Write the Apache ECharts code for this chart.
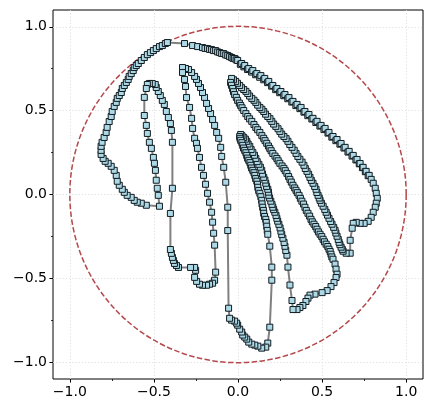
<!DOCTYPE html>
<html><head><meta charset="utf-8">
<script src="https://cdn.jsdelivr.net/npm/echarts@6/dist/echarts.min.js"></script>
<style>html,body{margin:0;padding:0;background:#fff}#c{width:432px;height:413px}</style>
</head><body><div id="c"></div>
<script>
const majorTicks = [-1.0, -0.5, 0, 0.5, 1.0];
const minorTicks = [-0.75, -0.25, 0.25, 0.75];
const circleData = [[0, 0, 1]];

const thumbOuter = [[-0.480,0.037],[-0.474,-0.005],[-0.467,-0.070],[-0.545,-0.064],[-0.575,-0.052],[-0.599,-0.046],[-0.617,-0.035],[-0.635,-0.017],[-0.659,-0.005],[-0.676,0.013],[-0.688,0.031],[-0.706,0.055],[-0.718,0.079],[-0.724,0.114],[-0.736,0.144],[-0.754,0.168],[-0.772,0.186],[-0.790,0.198],[-0.802,0.215],[-0.814,0.239],[-0.814,0.263],[-0.814,0.287],[-0.808,0.311],[-0.796,0.340],[-0.784,0.370],[-0.778,0.400],[-0.766,0.435],[-0.754,0.465],[-0.748,0.495],[-0.736,0.525],[-0.724,0.549],[-0.718,0.573],[-0.706,0.590],[-0.694,0.608],[-0.688,0.632],[-0.676,0.650],[-0.664,0.668],[-0.653,0.686],[-0.647,0.704],[-0.635,0.721],[-0.623,0.739],[-0.617,0.757],[-0.605,0.769],[-0.593,0.781],[-0.575,0.799],[-0.557,0.817],[-0.539,0.834],[-0.521,0.846],[-0.503,0.858],[-0.486,0.870],[-0.467,0.882],[-0.450,0.888],[-0.432,0.900],[-0.420,0.906]];

const outerEdge = [[-0.318,0.900],[-0.270,0.888],[-0.240,0.882],[-0.211,0.876],[-0.196,0.871],[-0.181,0.870],[-0.169,0.865],[-0.157,0.864],[-0.145,0.858],[-0.133,0.858],[-0.121,0.850],[-0.109,0.846],[-0.097,0.841],[-0.085,0.840],[-0.073,0.832],[-0.061,0.829],[-0.050,0.822],[-0.038,0.817],[-0.029,0.811],[-0.020,0.811],[-0.011,0.803],[-0.002,0.799],[0.014,0.776],[0.022,0.781],[0.035,0.761],[0.040,0.769],[0.057,0.745],[0.064,0.751],[0.081,0.730],[0.088,0.739],[0.105,0.714],[0.112,0.721],[0.129,0.699],[0.136,0.709],[0.153,0.684],[0.159,0.692],[0.176,0.667],[0.183,0.674],[0.200,0.646],[0.207,0.650],[0.224,0.625],[0.231,0.632],[0.248,0.607],[0.255,0.614],[0.272,0.589],[0.279,0.596],[0.296,0.571],[0.303,0.578],[0.320,0.551],[0.327,0.555],[0.344,0.530],[0.351,0.537],[0.368,0.512],[0.375,0.519],[0.392,0.491],[0.398,0.495],[0.415,0.470],[0.422,0.477],[0.439,0.450],[0.446,0.454],[0.463,0.429],[0.470,0.436],[0.487,0.408],[0.494,0.412],[0.511,0.387],[0.518,0.394],[0.535,0.366],[0.541,0.370],[0.558,0.342],[0.565,0.346],[0.582,0.321],[0.589,0.328],[0.606,0.300],[0.613,0.304],[0.630,0.277],[0.637,0.281],[0.654,0.253],[0.661,0.257],[0.678,0.229],[0.685,0.233],[0.701,0.206],[0.708,0.209],[0.721,0.183],[0.726,0.185],[0.740,0.160],[0.744,0.162],[0.757,0.136],[0.762,0.138],[0.774,0.112],[0.780,0.114],[0.792,0.090],[0.804,0.067],[0.816,0.037],[0.822,0.007],[0.828,-0.023],[0.822,-0.052],[0.816,-0.076],[0.804,-0.106],[0.792,-0.136],[0.774,-0.160],[0.750,-0.172],[0.726,-0.172],[0.703,-0.166],[0.685,-0.172],[0.679,-0.201],[0.667,-0.273],[0.667,-0.350]];

const pinkyLeft = [[0.643,-0.350],[0.625,-0.338],[0.620,-0.327],[0.613,-0.314],[0.606,-0.299],[0.601,-0.285],[0.596,-0.268],[0.589,-0.249],[0.582,-0.230],[0.577,-0.213],[0.569,-0.196],[0.559,-0.177],[0.551,-0.161],[0.541,-0.142],[0.532,-0.123],[0.524,-0.106],[0.516,-0.089],[0.506,-0.070],[0.496,-0.052],[0.488,-0.035],[0.483,-0.021],[0.476,-0.005],[0.469,0.012],[0.464,0.031],[0.456,0.048],[0.446,0.067],[0.436,0.084],[0.428,0.102],[0.420,0.121],[0.410,0.138],[0.400,0.155],[0.392,0.174],[0.381,0.193],[0.368,0.210],[0.356,0.227],[0.345,0.245],[0.334,0.264],[0.321,0.281],[0.308,0.298],[0.297,0.317],[0.286,0.333],[0.273,0.346],[0.260,0.360],[0.249,0.376],[0.238,0.392],[0.225,0.406],[0.212,0.420],[0.201,0.436],[0.190,0.452],[0.177,0.465],[0.164,0.479],[0.153,0.495],[0.142,0.508],[0.130,0.519],[0.117,0.533],[0.106,0.549],[0.095,0.562],[0.082,0.573],[0.069,0.587],[0.058,0.602],[0.047,0.615],[0.034,0.626],[0.021,0.637],[0.010,0.650],[-0.003,0.663],[-0.014,0.674],[-0.027,0.684],[-0.038,0.692]];

const ringRight = [[-0.044,0.668],[-0.039,0.651],[-0.032,0.632],[-0.027,0.613],[-0.020,0.596],[-0.010,0.579],[-0.002,0.561],[0.008,0.545],[0.016,0.531],[0.024,0.517],[0.034,0.501],[0.047,0.482],[0.058,0.465],[0.069,0.451],[0.082,0.436],[0.095,0.417],[0.106,0.400],[0.117,0.386],[0.130,0.370],[0.142,0.351],[0.153,0.335],[0.161,0.321],[0.171,0.305],[0.181,0.289],[0.189,0.275],[0.197,0.261],[0.207,0.245],[0.220,0.229],[0.231,0.215],[0.239,0.201],[0.249,0.186],[0.262,0.170],[0.273,0.156],[0.281,0.142],[0.291,0.126],[0.301,0.107],[0.309,0.090],[0.317,0.074],[0.327,0.055],[0.337,0.039],[0.345,0.025],[0.353,0.011],[0.363,-0.005],[0.371,-0.023],[0.380,-0.040],[0.390,-0.057],[0.398,-0.076],[0.406,-0.095],[0.416,-0.112],[0.426,-0.129],[0.434,-0.148],[0.442,-0.163],[0.452,-0.177],[0.462,-0.191],[0.470,-0.207],[0.478,-0.223],[0.488,-0.237],[0.498,-0.251],[0.506,-0.267],[0.514,-0.282],[0.524,-0.296],[0.534,-0.310],[0.541,-0.326],[0.548,-0.340],[0.553,-0.356],[0.558,-0.372],[0.565,-0.386],[0.577,-0.415],[0.583,-0.445],[0.589,-0.475]];

const ringLeft = [[0.583,-0.495],[0.571,-0.525],[0.553,-0.549],[0.530,-0.573],[0.500,-0.585],[0.458,-0.594],[0.428,-0.600],[0.416,-0.618],[0.404,-0.638],[0.386,-0.662],[0.368,-0.674],[0.351,-0.686],[0.327,-0.686],[0.321,-0.632],[0.309,-0.540],[0.297,-0.433],[0.291,-0.362],[0.284,-0.334],[0.279,-0.309],[0.274,-0.286],[0.267,-0.261],[0.260,-0.239],[0.255,-0.219],[0.250,-0.199],[0.243,-0.178],[0.236,-0.159],[0.231,-0.142],[0.226,-0.125],[0.219,-0.106],[0.212,-0.090],[0.207,-0.076],[0.202,-0.059],[0.195,-0.040],[0.188,-0.021],[0.183,-0.005],[0.181,0.014],[0.177,0.031],[0.170,0.048],[0.165,0.067],[0.160,0.086],[0.153,0.102],[0.146,0.122],[0.141,0.144],[0.133,0.163],[0.124,0.180],[0.114,0.196],[0.106,0.215],[0.098,0.234],[0.088,0.251],[0.078,0.268],[0.070,0.287],[0.060,0.301],[0.052,0.317],[0.044,0.330],[0.034,0.340],[0.024,0.350],[0.016,0.358]];

const middleRight = [[0.010,0.346],[0.012,0.335],[0.016,0.323],[0.023,0.309],[0.028,0.293],[0.033,0.277],[0.040,0.263],[0.047,0.249],[0.052,0.233],[0.057,0.217],[0.064,0.204],[0.071,0.190],[0.076,0.174],[0.081,0.158],[0.088,0.144],[0.095,0.130],[0.100,0.114],[0.105,0.095],[0.112,0.079],[0.116,0.061],[0.118,0.043],[0.123,0.024],[0.130,0.007],[0.136,-0.013],[0.141,-0.035],[0.143,-0.056],[0.147,-0.076],[0.151,-0.095],[0.153,-0.112],[0.158,-0.131],[0.165,-0.148],[0.168,-0.167],[0.171,-0.189],[0.174,-0.214],[0.177,-0.237],[0.189,-0.308],[0.201,-0.433],[0.201,-0.511],[0.189,-0.791],[0.177,-0.886]];

const middleLeft = [[0.165,-0.910],[0.141,-0.916],[0.118,-0.904],[0.100,-0.898],[0.082,-0.892],[0.064,-0.880],[0.052,-0.862],[0.040,-0.850],[0.028,-0.838],[0.022,-0.820],[0.010,-0.803],[-0.002,-0.779],[-0.008,-0.767],[-0.020,-0.755],[-0.038,-0.749],[-0.050,-0.738],[-0.056,-0.678],[-0.061,-0.215],[-0.061,-0.076],[-0.073,0.073],[-0.085,0.162],[-0.097,0.227],[-0.103,0.281],[-0.115,0.335],[-0.127,0.370],[-0.139,0.412],[-0.151,0.447],[-0.163,0.483],[-0.175,0.513],[-0.187,0.543],[-0.199,0.579],[-0.211,0.608],[-0.223,0.638],[-0.235,0.662],[-0.247,0.686],[-0.258,0.704],[-0.276,0.727],[-0.294,0.745],[-0.312,0.751],[-0.330,0.757]];

const indexRight = [[-0.330,0.727],[-0.318,0.686],[-0.312,0.644],[-0.306,0.578],[-0.288,0.519],[-0.276,0.454],[-0.270,0.394],[-0.258,0.335],[-0.247,0.305],[-0.241,0.275],[-0.229,0.221],[-0.217,0.162],[-0.205,0.114],[-0.193,0.061],[-0.181,0.007],[-0.169,-0.046],[-0.157,-0.106],[-0.151,-0.165],[-0.145,-0.231],[-0.139,-0.302],[-0.133,-0.463],[-0.139,-0.511],[-0.151,-0.529],[-0.169,-0.535],[-0.187,-0.541],[-0.211,-0.541],[-0.229,-0.535],[-0.246,-0.518],[-0.258,-0.494],[-0.252,-0.452],[-0.258,-0.435],[-0.282,-0.435]];

const indexLeft = [[-0.354,-0.435],[-0.366,-0.423],[-0.378,-0.411],[-0.384,-0.393],[-0.390,-0.375],[-0.396,-0.351],[-0.402,-0.328],[-0.402,-0.113],[-0.390,0.037],[-0.390,0.311],[-0.396,0.382],[-0.402,0.423],[-0.414,0.459],[-0.426,0.495],[-0.438,0.537],[-0.450,0.561],[-0.462,0.590],[-0.474,0.614],[-0.486,0.638],[-0.492,0.656],[-0.510,0.662],[-0.527,0.662],[-0.539,0.656]];

const thumbInner = [[-0.545,0.632],[-0.557,0.579],[-0.557,0.471],[-0.545,0.412],[-0.539,0.364],[-0.527,0.311],[-0.515,0.275],[-0.503,0.221],[-0.497,0.186],[-0.491,0.144],[-0.486,0.085]];

const path = [].concat(thumbOuter, outerEdge, pinkyLeft, ringRight, ringLeft, middleRight, middleLeft, indexRight, indexLeft, thumbInner);

const fmt = v => (v < 0 ? '\u2212' : '') + Math.abs(v).toFixed(1);
const labelFont = {color:'#000', fontFamily:'DejaVu Sans', fontSize:14};

function axes(pos) {
  return [
    {type:'value', min:-1.1, max:1.1, position:pos,
     axisLine:{show:false, onZero:false},
     axisTick:{show:true, inside:false, customValues:majorTicks, length:3.5, lineStyle:{color:'#000', width:1}},
     axisLabel:Object.assign({show:true, customValues:majorTicks, formatter:fmt, margin:6}, labelFont),
     splitLine:{show:true, lineStyle:{color:'#d9d9d9', width:0.8, type:[1.2,2]}}},
    {type:'value', min:-1.1, max:1.1, position:pos,
     axisLine:{show:false, onZero:false},
     axisTick:{show:true, inside:false, customValues:minorTicks, length:2, lineStyle:{color:'#000', width:0.8}},
     axisLabel:{show:false}, splitLine:{show:false}}
  ];
}

const chart = echarts.init(document.getElementById('c'), null, {renderer:'canvas'});
chart.setOption({
  animation:false,
  backgroundColor:'#fff',
  grid:{left:53, right:9, top:10, bottom:34, show:true, borderColor:'#000', borderWidth:1, backgroundColor:'transparent'},
  xAxis:axes('bottom'),
  yAxis:axes('left'),
  series:[
    {type:'custom', data:circleData, xAxisIndex:0, yAxisIndex:0, silent:true, z:1, clip:false,
     renderItem:function(params, api){
       const c = api.coord([api.value(0), api.value(1)]);
       const s = api.size([api.value(2), api.value(2)]);
       return {type:'circle', shape:{cx:c[0], cy:c[1], r:s[0]},
               style:{fill:'none', stroke:'#b5484b', lineWidth:1.5, lineDash:[5.5,2.4]}};
     }},
    {type:'line', data:path, xAxisIndex:0, yAxisIndex:0, silent:true, z:3,
     symbol:'rect', symbolSize:6, showSymbol:true, showAllSymbol:true,
     lineStyle:{color:'#808080', width:2},
     itemStyle:{color:'#add8e6', borderColor:'#111c20', borderWidth:1}}
  ]
});
</script></body></html>
